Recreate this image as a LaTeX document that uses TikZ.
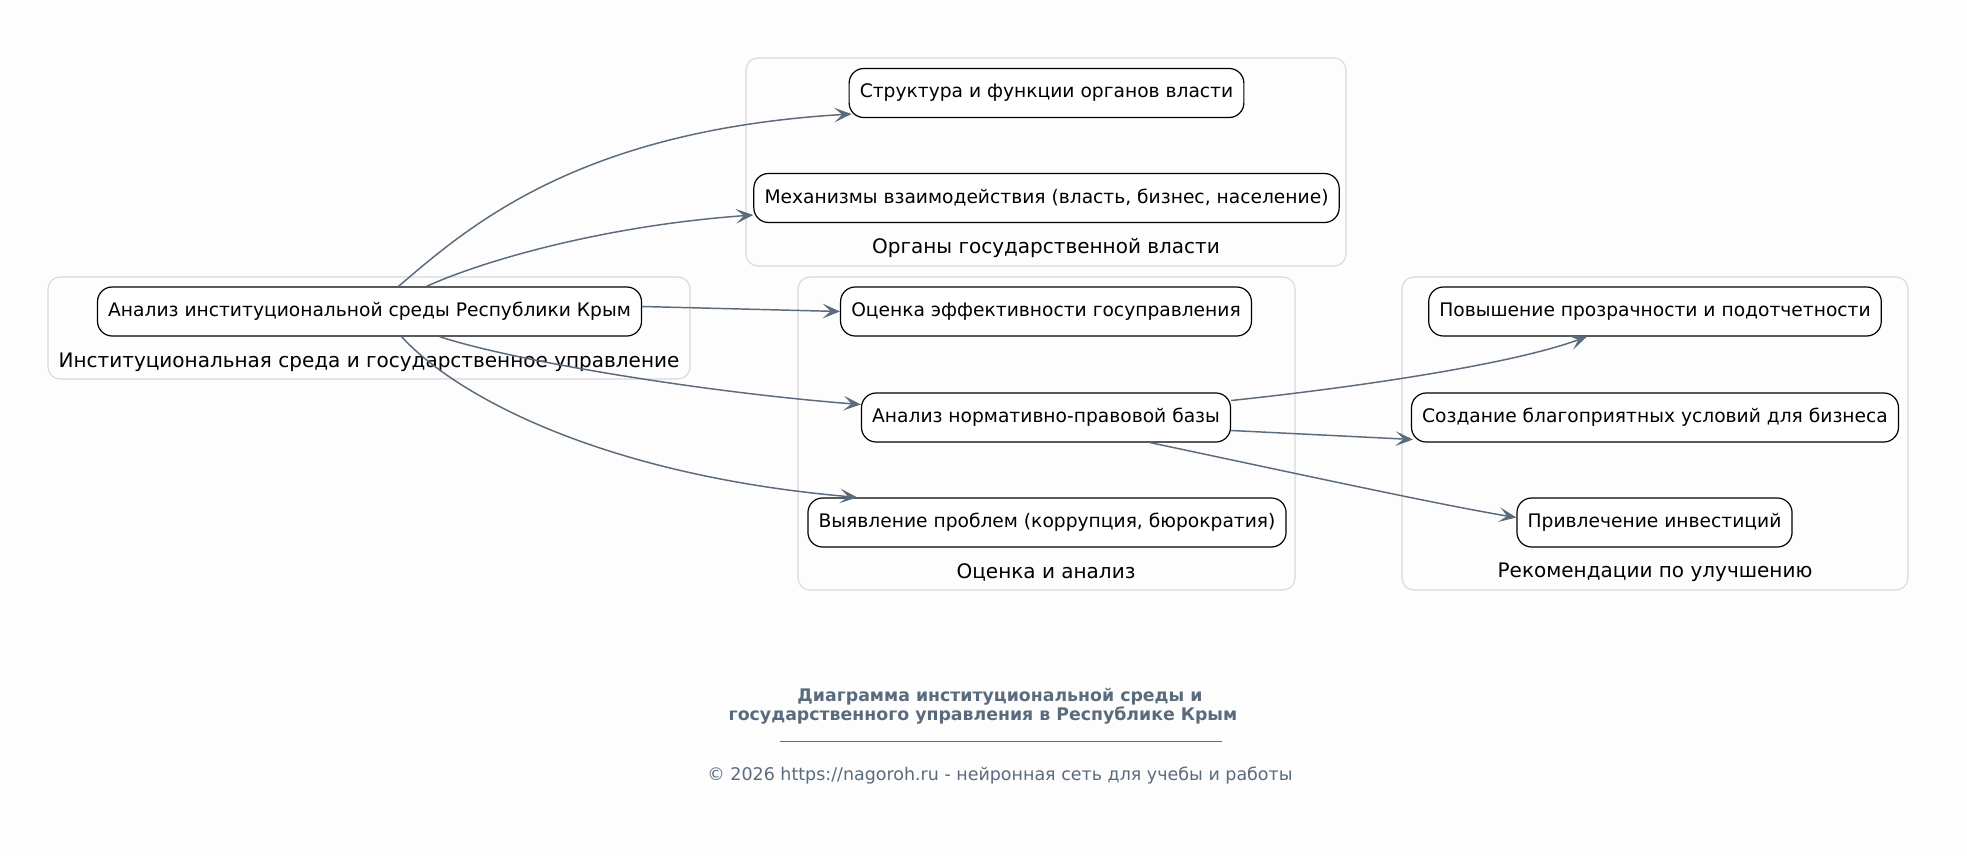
\documentclass[tikz,border=0pt]{standalone}
\usepackage{fontspec}
\setmainfont{DejaVu Sans}
\usetikzlibrary{calc,arrows.meta}
\definecolor{bgc}{HTML}{FDFDFD}
\definecolor{edgec}{HTML}{5B6B7B}
\definecolor{clc}{HTML}{D8D8D8}
\definecolor{titc}{HTML}{5A6B7D}
\tikzset{
  box/.style={draw=black, line width=0.9pt, rounded corners=11pt, fill=white, minimum height=36.75pt, inner xsep=8pt, font=\fontsize{14}{16}\selectfont},
  cluster/.style={draw=clc, line width=0.8pt, rounded corners=9pt},
  cllabel/.style={font=\fontsize{15}{18}\selectfont},
  conn/.style={draw=edgec, line width=1.1pt, -{Stealth[length=13pt,width=11pt,inset=6pt]}},
}
\begin{document}
\begin{tikzpicture}[x=0.75pt,y=-0.75pt]
\path[fill=bgc] (0,0) rectangle (1967,857);
\useasboundingbox (0,0) rectangle (1967,857);
% clusters
\draw[cluster] (48,277) rectangle (690,379);
\draw[cluster] (746,58) rectangle (1346,266);
\draw[cluster] (798,277) rectangle (1295,590);
\draw[cluster] (1402,277) rectangle (1908,590);
\node[cllabel] (lA) at (369,362) {Институциональная среда и государственное управление};
\node[cllabel] (lB) at (1046,248) {Органы государственной власти};
\node[cllabel] (lC) at (1046,572) {Оценка и анализ};
\node[cllabel] (lD) at (1655,572) {Рекомендации по улучшению};
% nodes
\node[box] (A) at (369.5,311.5) {Анализ институциональной среды Республики Крым};
\node[box] (B1) at (1046.5,93) {Структура и функции органов власти};
\node[box] (B2) at (1046.5,198) {Механизмы взаимодействия (власть, бизнес, население)};
\node[box] (C1) at (1046,311.5) {Оценка эффективности госуправления};
\node[box] (C2) at (1046,417.5) {Анализ нормативно-правовой базы};
\node[box] (C3) at (1047,522.5) {Выявление проблем (коррупция, бюрократия)};
\node[box] (D1) at (1655,311.5) {Повышение прозрачности и подотчетности};
\node[box] (D2) at (1655,417.5) {Создание благоприятных условий для бизнеса};
\node[box] (D3) at (1654.5,522.5) {Привлечение инвестиций};
% edges
\draw[conn] ($(A.north)+(29,0)$) .. controls (470,225) and (580,130) .. ($(B1.west)+(3,21)$);
\draw[conn] ($(A.north)+(57,0)$) .. controls (480,262) and (600,226) .. ($(B2.west)+(0,17)$);
\draw[conn] ($(A.east)+(0,-5)$) -- (C1.west);
\draw[conn] ($(A.south)+(70,0)$) .. controls (510,360) and (700,392) .. ($(C2.west)+(0,-13)$);
\draw[conn] ($(A.south)+(32,0)$) .. controls (455,395) and (600,475) .. ($(C3.north west)+(50,0)$);
\draw[conn] ($(C2.east)+(0,-17)$) .. controls (1350,388) and (1510,365) .. ($(D1.south)+(-68,0)$);
\draw[conn] ($(C2.east)+(0,13)$) -- ($(D2.west)+(2,22)$);
\draw[conn] ($(C2.south)+(104,0)$) .. controls (1280,470) and (1440,505) .. ($(D3.west)+(0,-5)$);
% title
\node[font=\fontsize{13}{15}\selectfont\bfseries, text=titc] (t1) at (1000,696.5) {Диаграмма институциональной среды и};
\node[font=\fontsize{13}{15}\selectfont\bfseries, text=titc] (t2) at (983,715.5) {государственного управления в Республике Крым};
\coordinate (r1) at (780,741);
\coordinate (r2) at (1222,741);
\draw[titc, line width=0.6pt] (r1) -- (r2);
\node[font=\fontsize{13.1}{15}\selectfont, text=titc] (cp) at (1000,775.5) {© 2026 https://nagoroh.ru - нейронная сеть для учебы и работы};
\end{tikzpicture}
\end{document}
